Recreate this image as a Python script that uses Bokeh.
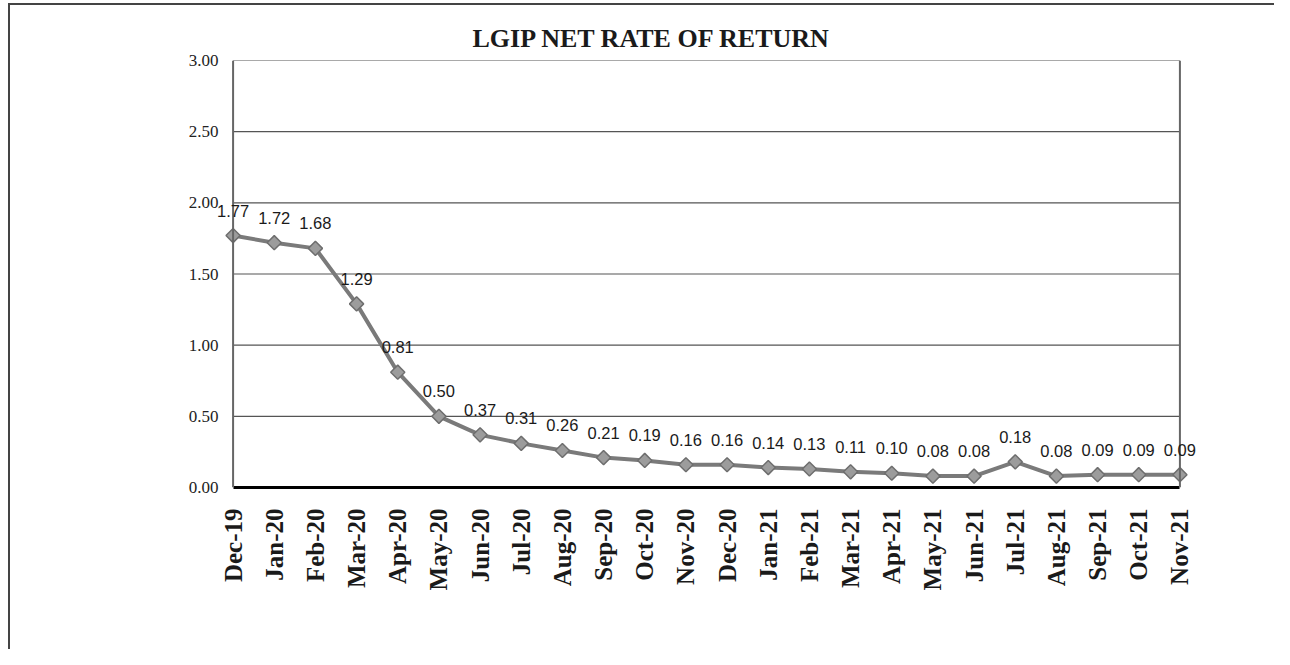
from bokeh.plotting import figure
from bokeh.models import (Range1d, FixedTicker, ColumnDataSource, LabelSet, Span, Title,
                          NumeralTickFormatter)
from bokeh.embed import file_html
from bokeh.resources import INLINE
from bokeh.core.properties import value
from math import pi

months = ["Dec-19", "Jan-20", "Feb-20", "Mar-20", "Apr-20", "May-20", "Jun-20", "Jul-20",
          "Aug-20", "Sep-20", "Oct-20", "Nov-20", "Dec-20", "Jan-21", "Feb-21", "Mar-21",
          "Apr-21", "May-21", "Jun-21", "Jul-21", "Aug-21", "Sep-21", "Oct-21", "Nov-21"]
rates = [1.77, 1.72, 1.68, 1.29, 0.81, 0.50, 0.37, 0.31, 0.26, 0.21, 0.19, 0.16,
         0.16, 0.14, 0.13, 0.11, 0.10, 0.08, 0.08, 0.18, 0.08, 0.09, 0.09, 0.09]
y_ticks = [0.0, 0.5, 1.0, 1.5, 2.0, 2.5, 3.0]
title_text = "LGIP NET RATE OF RETURN"

idx = list(range(len(months)))
src = ColumnDataSource(dict(x=idx, y=rates, lbl=["%.2f" % r for r in rates]))

last = len(months) - 1
p = figure(width=1266, height=646, output_backend="svg", toolbar_location=None,
           x_range=Range1d(-0.5, last + 0.5), y_range=Range1d(0, 3),
           min_border_left=202, min_border_right=76, min_border_top=55, min_border_bottom=164)
p.outline_line_color = None
p.background_fill_color = "white"
p.border_fill_color = "white"

p.title = Title(text=title_text, align="left", offset=260, standoff=15,
                text_font="Liberation Serif", text_font_style="bold",
                text_font_size="26px", text_color="#1a1a1a")

# grid lines drawn only across the plot area (Dec-19 .. Nov-21)
p.xgrid.grid_line_color = None
p.ygrid.grid_line_color = None
grid_y = y_ticks[1:]
p.segment(x0=[0] * len(grid_y), x1=[last] * len(grid_y), y0=grid_y, y1=grid_y,
          line_color="#555555", line_width=1.2)

# y axis
p.yaxis.ticker = FixedTicker(ticks=y_ticks)
p.yaxis.formatter = NumeralTickFormatter(format="0.00")
p.yaxis.axis_line_color = None
p.yaxis.major_tick_line_color = None
p.yaxis.minor_tick_line_color = None
p.yaxis.major_tick_out = 0
p.yaxis.major_tick_in = 0
p.yaxis.major_label_standoff = -6
p.yaxis.major_label_text_font = "Liberation Serif"
p.yaxis.major_label_text_font_size = "17px"
p.yaxis.major_label_text_color = "#222222"

# x axis
p.xaxis.ticker = FixedTicker(ticks=idx)
p.xaxis.major_label_overrides = {i: m for i, m in zip(idx, months)}
p.xaxis.bounds = (0, last)
p.xaxis.axis_line_color = "black"
p.xaxis.axis_line_width = 3
p.xaxis.major_tick_line_color = None
p.xaxis.minor_tick_line_color = None
p.xaxis.major_label_orientation = pi / 2
p.xaxis.major_label_standoff = 15
p.xaxis.major_label_text_font = "Liberation Serif"
p.xaxis.major_label_text_font_style = "bold"
p.xaxis.major_label_text_font_size = "25px"
p.xaxis.major_label_text_color = "#1a1a1a"

# plot-area borders
p.add_layout(Span(location=0, dimension="height", line_color="#666666", line_width=2))
p.add_layout(Span(location=last, dimension="height", line_color="#666666", line_width=2))

# series
p.line("x", "y", source=src, line_color="#7a7a7a", line_width=4)
p.scatter("x", "y", source=src, marker="square", angle=pi / 4, size=10,
          fill_color="#9c9c9c", line_color="#6e6e6e", line_width=1.5)

labels = LabelSet(x="x", y="y", text="lbl", source=src, text_align="center",
                  text_baseline="bottom", y_offset=19, text_font=value("Liberation Sans"),
                  text_font_size="16.5px", text_color="#1a1a1a")
p.add_layout(labels)

p.styles = {"border-left": "2px solid #444444", "border-top": "2px solid #444444",
            "margin-left": "8px", "margin-top": "3px"}

open("out.html", "w").write(file_html(p, INLINE))
